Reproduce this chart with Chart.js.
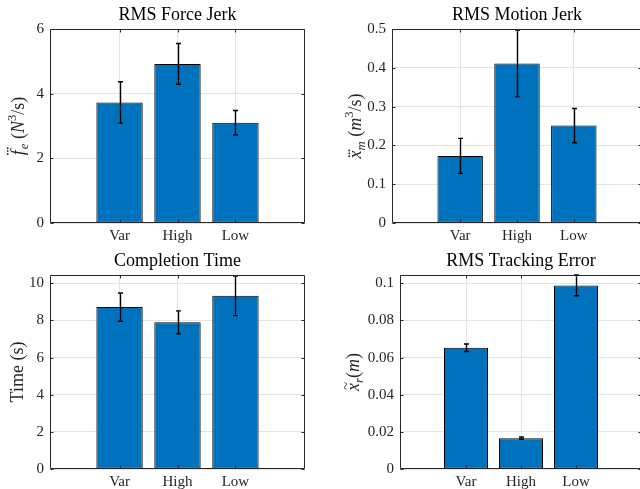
<!DOCTYPE html>
<html><head><meta charset="utf-8">
<script src="https://cdn.jsdelivr.net/npm/chart.js@4"></script>
<style>
html,body{margin:0;padding:0;background:#fff;overflow:hidden;width:640px;height:489px;position:relative;}
canvas{position:absolute;}
</style></head><body>
<canvas id="c1" width="320" height="245" style="left:0;top:0"></canvas>
<canvas id="c2" width="330" height="245" style="left:320px;top:0"></canvas>
<canvas id="c3" width="320" height="244" style="left:0;top:245px"></canvas>
<canvas id="c4" width="330" height="244" style="left:320px;top:245px"></canvas>
<script>
// ---- data ----
const categories = ['Var', 'High', 'Low'];
const categoryPositions = [1, 2, 3];

const forceJerk = [3.73, 4.92, 3.10];
const forceJerkErr = [0.64, 0.63, 0.38];
const forceJerkTicks = [0, 2, 4, 6];
const forceJerkTickLabels = ['0', '2', '4', '6'];

const motionJerk = [0.173, 0.411, 0.251];
const motionJerkErr = [0.045, 0.086, 0.044];
const motionJerkTicks = [0, 0.1, 0.2, 0.3, 0.4, 0.5];
const motionJerkTickLabels = ['0', '0.1', '0.2', '0.3', '0.4', '0.5'];

const completionTime = [8.72, 7.90, 9.33];
const completionTimeErr = [0.76, 0.62, 1.07];
const completionTimeTicks = [0, 2, 4, 6, 8, 10];
const completionTimeTickLabels = ['0', '2', '4', '6', '8', '10'];

const trackingError = [0.0653, 0.0166, 0.0989];
const trackingErrorErr = [0.0020, 0.0006, 0.0056];
const trackingErrorTicks = [0, 0.02, 0.04, 0.06, 0.08, 0.1];
const trackingErrorTickLabels = ['0', '0.02', '0.04', '0.06', '0.08', '0.1'];

// ---- style ----
const FONT = '"Liberation Serif", "Times New Roman", serif';
const AXIS_COLOR = '#262626';
const GRID_COLOR = '#e4e4e4';
const BAR_COLOR = '#0072BD';
const YLABEL_SIZE = 18;

function drawRich(ctx, segs, size) {
  let total = 0;
  const items = segs.map(s => {
    const fs = (s.sub || s.sup) ? size * 0.7 : size;
    ctx.font = (s.it ? 'italic ' : '') + fs + 'px ' + FONT;
    const w = ctx.measureText(s.t).width + (s.gap || 0);
    total += w;
    return Object.assign({}, s, {fs, w});
  });
  let x = -total / 2;
  for (const it of items) {
    ctx.font = (it.it ? 'italic ' : '') + it.fs + 'px ' + FONT;
    const dy = it.sub ? size * 0.22 : (it.sup ? -size * 0.42 : 0);
    ctx.fillText(it.t, x, dy);
    const cx = x + it.w / 2 + (it.it ? size * 0.06 : 0);
    if (it.dots) {
      const dyd = -size * it.dots;
      for (let k = -1; k <= 1; k++) {
        ctx.beginPath();
        ctx.arc(cx + k * size * 0.16, dyd, size * 0.05, 0, Math.PI * 2);
        ctx.fill();
      }
    }
    if (it.tilde) {
      ctx.font = (size * 0.8) + 'px ' + FONT;
      const tw = ctx.measureText('~').width;
      ctx.fillText('~', cx - tw / 2, -size * 0.45);
    }
    x += it.w;
  }
}

const decoPlugin = {
  id: 'deco',
  afterDraw(chart, args, opts) {
    const ctx = chart.ctx;
    const a = chart.chartArea;
    const xs = chart.scales.x, ys = chart.scales.y;
    ctx.save();
    ctx.strokeStyle = AXIS_COLOR;
    ctx.lineWidth = 1;
    const L = Math.round(a.left) + 0.5, R = Math.round(a.right) - 0.5;
    const T = Math.round(a.top) + 0.5, B = Math.round(a.bottom) - 0.5;
    ctx.beginPath();
    ctx.rect(L, T, R - L, B - T);
    ctx.stroke();
    ctx.beginPath();
    ys.ticks.forEach(t => {
      const y = Math.round(ys.getPixelForValue(t.value)) + 0.5;
      ctx.moveTo(L, y); ctx.lineTo(L + 3, y);
      ctx.moveTo(R, y); ctx.lineTo(R - 3, y);
    });
    xs.ticks.forEach(t => {
      const x = Math.round(xs.getPixelForValue(t.value)) + 0.5;
      ctx.moveTo(x, B); ctx.lineTo(x, B - 3);
      ctx.moveTo(x, T); ctx.lineTo(x, T + 3);
    });
    ctx.stroke();
    ctx.fillStyle = '#000';
    ctx.font = '18px ' + FONT;
    ctx.textAlign = 'center';
    ctx.textBaseline = 'alphabetic';
    ctx.fillText(opts.title, (a.left + a.right) / 2 + (opts.titleDx || 0), a.top - 9);
    ctx.textAlign = 'left';
    ctx.fillStyle = AXIS_COLOR;
    ctx.translate(opts.ylabelX + YLABEL_SIZE * 0.33, (a.top + a.bottom) / 2);
    ctx.rotate(-Math.PI / 2);
    drawRich(ctx, opts.ylabel, YLABEL_SIZE);
    ctx.restore();
  }
};

const errorPlugin = {
  id: 'errbars',
  afterDatasetsDraw(chart, args, opts) {
    const ctx = chart.ctx, a = chart.chartArea;
    const xs = chart.scales.x, ys = chart.scales.y;
    const vals = opts.values, errs = opts.errors;
    ctx.save();
    ctx.beginPath();
    ctx.rect(a.left, a.top - 1, a.right - a.left, a.bottom - a.top + 1);
    ctx.clip();
    ctx.strokeStyle = '#000';
    ctx.lineWidth = 1.4;
    ctx.beginPath();
    vals.forEach((v, i) => {
      const x = Math.round(xs.getPixelForValue(categoryPositions[i])) + 0.5;
      const y1 = ys.getPixelForValue(v + errs[i]);
      const y2 = ys.getPixelForValue(v - errs[i]);
      ctx.moveTo(x, y1); ctx.lineTo(x, y2);
      ctx.moveTo(x - 2.5, y1); ctx.lineTo(x + 2.5, y1);
      ctx.moveTo(x - 2.5, y2); ctx.lineTo(x + 2.5, y2);
    });
    ctx.stroke();
    ctx.restore();
  }
};

function makePanel(id, p) {
  new Chart(document.getElementById(id), {
    type: 'bar',
    data: {
      datasets: [{
        data: p.values.map((v, i) => ({x: categoryPositions[i], y: v})),
        backgroundColor: BAR_COLOR,
        borderColor: '#000',
        borderWidth: 1,
        borderSkipped: false,
        barPercentage: 0.8,
        categoryPercentage: 1.0
      }]
    },
    options: {
      responsive: false,
      animation: false,
      devicePixelRatio: 1,
      layout: {padding: {left: 2, right: p.padRight, top: p.padTop, bottom: 0}},
      plugins: {
        legend: {display: false},
        tooltip: {enabled: false},
        deco: {title: p.title, ylabel: p.ylabel, ylabelX: p.ylabelX},
        errbars: {values: p.values, errors: p.errors}
      },
      scales: {
        x: {
          type: 'linear', min: -0.2, max: 4.2, offset: false,
          afterBuildTicks: s => { s.ticks = categoryPositions.map(v => ({value: v})); },
          afterFit: s => { s.height = p.xAxisH; },
          ticks: {
            callback: v => categories[categoryPositions.indexOf(v)],
            font: {family: FONT, size: 15}, color: AXIS_COLOR,
            padding: 4, maxRotation: 0, minRotation: 0, autoSkip: false
          },
          grid: {color: GRID_COLOR, drawTicks: false, lineWidth: 1, offset: false},
          border: {display: false}
        },
        y: {
          type: 'linear', min: 0, max: p.ymax,
          afterBuildTicks: s => { s.ticks = p.ticks.map(v => ({value: v})); },
          afterFit: s => { s.width = p.yAxisW; },
          ticks: {
            callback: v => p.tickLabels[p.ticks.indexOf(v)],
            font: {family: FONT, size: 15}, color: AXIS_COLOR,
            padding: 6, autoSkip: false
          },
          grid: {color: GRID_COLOR, drawTicks: false, lineWidth: 1},
          border: {display: false}
        }
      }
    },
    plugins: [decoPlugin, errorPlugin]
  });
}

makePanel('c1', {
  values: forceJerk, errors: forceJerkErr, ymax: 6,
  ticks: forceJerkTicks, tickLabels: forceJerkTickLabels,
  title: 'RMS Force Jerk',
  ylabel: [{t: 'f', it: true, dots: 0.9, gap: 1}, {t: 'e', it: true, sub: true}, {t: ' (', it: false},
           {t: 'N', it: true}, {t: '3', sup: true}, {t: '/s)', it: false}],
  ylabelX: 18,
  yAxisW: 48, xAxisH: 22, padRight: 15, padTop: 29
});
makePanel('c2', {
  values: motionJerk, errors: motionJerkErr, ymax: 0.5,
  ticks: motionJerkTicks, tickLabels: motionJerkTickLabels,
  title: 'RMS Motion Jerk',
  ylabel: [{t: 'x', it: true, dots: 0.65}, {t: 'm', it: true, sub: true}, {t: ' (', it: false},
           {t: 'm', it: true}, {t: '3', sup: true}, {t: '/s)', it: false}],
  ylabelX: 35,
  yAxisW: 70, xAxisH: 22, padRight: 8, padTop: 29
});
makePanel('c3', {
  values: completionTime, errors: completionTimeErr, ymax: 10.45,
  ticks: completionTimeTicks, tickLabels: completionTimeTickLabels,
  title: 'Completion Time',
  ylabel: [{t: 'Time (s)', it: false}],
  ylabelX: 17,
  yAxisW: 48, xAxisH: 20, padRight: 15, padTop: 30
});
makePanel('c4', {
  values: trackingError, errors: trackingErrorErr, ymax: 0.1045,
  ticks: trackingErrorTicks, tickLabels: trackingErrorTickLabels,
  title: 'RMS Tracking Error',
  ylabel: [{t: 'x', it: true, tilde: true}, {t: 'r', it: true, sub: true}, {t: '(', it: false},
           {t: 'm', it: true}, {t: ')', it: false}],
  ylabelX: 33,
  yAxisW: 78, xAxisH: 20, padRight: 8, padTop: 30
});
</script>
</body></html>
